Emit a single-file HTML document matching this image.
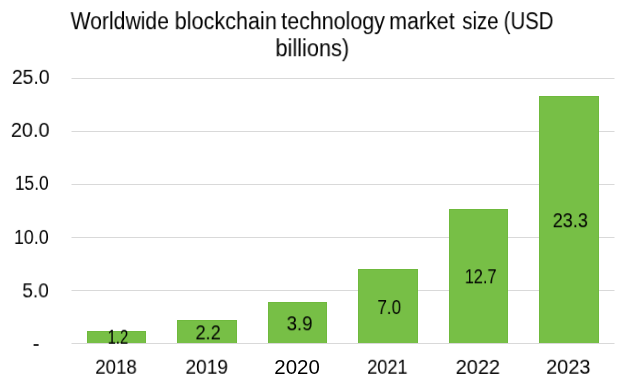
<!DOCTYPE html>
<html><head><meta charset="utf-8"><style>
html,body{margin:0;padding:0;background:#fff;}
body{width:625px;height:384px;position:relative;overflow:hidden;font-family:"Liberation Sans",sans-serif;color:#000;}
.t{position:absolute;left:0;top:0;white-space:nowrap;line-height:1;transform-origin:0 0;will-change:transform;}
.g{position:absolute;left:0;top:0;width:543px;height:1px;background:#d9d9d9;will-change:transform;}
.b{position:absolute;background:#77bf46;box-sizing:border-box;border:1px solid #6fb93d;border-bottom:0;}
</style></head><body>
<div class="g" style="transform:translate(71.5px,78px)"></div>
<div class="g" style="transform:translate(71.5px,131px)"></div>
<div class="g" style="transform:translate(71.5px,184px)"></div>
<div class="g" style="transform:translate(71.5px,237px)"></div>
<div class="g" style="transform:translate(71.5px,290px)"></div>
<div class="g" style="transform:translate(71.5px,343px)"></div>
<div class="b" style="left:87px;width:59px;top:331px;height:12px"></div>
<div class="b" style="left:177px;width:60px;top:320px;height:23px"></div>
<div class="b" style="left:268px;width:59px;top:302px;height:41px"></div>
<div class="b" style="left:358px;width:60px;top:269px;height:74px"></div>
<div class="b" style="left:449px;width:59px;top:209px;height:134px"></div>
<div class="b" style="left:539px;width:60px;top:96px;height:247px"></div>
<div style="position:absolute;left:0;top:0;width:5.4px;height:1.6px;background:#2e2e2e;transform:translate(33.6px,344px);will-change:transform"></div>
<div class="t" style="font-size:23px;transform:translate(70.61px,10.15px) scale(0.9190,1.0000)">Worldwide</div>
<div class="t" style="font-size:23px;transform:translate(174.64px,10.15px) scale(0.9400,1.0000)">blockchain</div>
<div class="t" style="font-size:23px;transform:translate(281.21px,10.15px) scale(0.9320,1.0000)">technology</div>
<div class="t" style="font-size:23px;transform:translate(389.15px,10.15px) scale(0.9316,1.0000)">market</div>
<div class="t" style="font-size:23px;transform:translate(462.23px,10.15px) scale(0.8895,1.0000)">size</div>
<div class="t" style="font-size:23px;transform:translate(503.68px,10.15px) scale(0.8860,1.0000)">(USD</div>
<div class="t" style="font-size:23px;transform:translate(275.42px,37.23px) scale(0.9464,1.0000)">billions)</div>
<div class="t" style="font-size:20px;transform:translate(11.92px,66.86px) scale(0.9675,1.0000)">25.0</div>
<div class="t" style="font-size:20px;transform:translate(10.82px,119.85px) scale(0.9958,1.0000)">20.0</div>
<div class="t" style="font-size:20px;transform:translate(14.88px,172.85px) scale(0.8687,1.0000)">15.0</div>
<div class="t" style="font-size:20px;transform:translate(13.94px,226.90px) scale(0.8939,1.0000)">10.0</div>
<div class="t" style="font-size:20px;transform:translate(22.36px,280.34px) scale(0.9490,1.0000)">5.0</div>
<div class="t" style="font-size:20px;transform:translate(95.25px,356.75px) scale(0.9356,1.0000)">2018</div>
<div class="t" style="font-size:20px;transform:translate(185.49px,356.74px) scale(0.9566,1.0000)">2019</div>
<div class="t" style="font-size:20px;transform:translate(274.27px,356.90px) scale(1.0222,1.0000)">2020</div>
<div class="t" style="font-size:20px;transform:translate(367.25px,356.73px) scale(0.9080,1.0000)">2021</div>
<div class="t" style="font-size:20px;transform:translate(455.67px,356.92px) scale(0.9986,1.0000)">2022</div>
<div class="t" style="font-size:20px;transform:translate(546.14px,356.69px) scale(0.9979,1.0000)">2023</div>
<div class="t" style="font-size:20px;transform:translate(107.73px,326.73px) scale(0.7326,1.0000)">1.2</div>
<div class="t" style="font-size:20px;transform:translate(195.52px,322.35px) scale(0.9062,1.0000)">2.2</div>
<div class="t" style="font-size:20px;transform:translate(286.67px,313.28px) scale(0.9256,1.0000)">3.9</div>
<div class="t" style="font-size:20px;transform:translate(377.39px,297.03px) scale(0.8500,1.0000)">7.0</div>
<div class="t" style="font-size:20px;transform:translate(464.79px,266.28px) scale(0.8157,1.0000)">12.7</div>
<div class="t" style="font-size:20px;transform:translate(552.71px,210.23px) scale(0.9055,1.0000)">23.3</div>
</body></html>
